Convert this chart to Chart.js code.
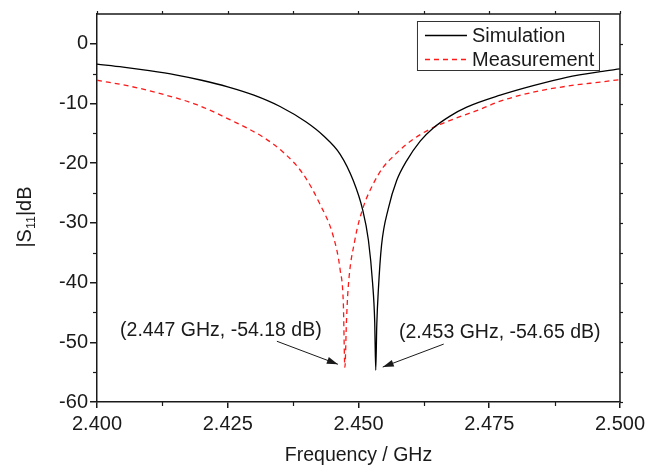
<!DOCTYPE html>
<html><head><meta charset="utf-8">
<script src="https://cdn.jsdelivr.net/npm/chart.js@4/dist/chart.umd.min.js"></script>
<style>html,body{margin:0;padding:0;background:#fff}#wrap{width:649px;height:467px;position:relative}</style>
</head><body><div id="wrap"><canvas id="c"></canvas></div>
<script>
// ---- data ----
const seriesLabels = ['Simulation', 'Measurement'];
const simFreq = [2.400, 2.405, 2.410, 2.415, 2.420, 2.425, 2.430, 2.435, 2.440, 2.4433, 2.4465, 2.4490, 2.4508, 2.4519, 2.4527, 2.4531, 2.4533, 2.4535, 2.4538, 2.4544, 2.4557, 2.4573, 2.4592, 2.4618, 2.4643, 2.4675, 2.4707, 2.4771, 2.4834, 2.4898, 2.4962, 2.500];
const simDb   = [-3.4, -3.9, -4.5, -5.2, -6.1, -7.2, -8.6, -10.5, -13.1, -15.4, -18.5, -22.9, -27.8, -32.9, -40.1, -46.5, -54.65, -47.0, -41.2, -33.8, -27.6, -22.9, -19.6, -16.3, -14.1, -12.1, -10.6, -8.6, -7.0, -5.6, -4.65, -4.2];
const measFreq = [2.400, 2.4063, 2.4128, 2.4191, 2.4254, 2.4319, 2.4358, 2.4394, 2.4426, 2.4452, 2.4465, 2.4471, 2.4474, 2.4477, 2.4480, 2.4493, 2.4509, 2.4528, 2.4547, 2.4567, 2.4592, 2.4624, 2.4656, 2.4694, 2.4732, 2.4771, 2.4834, 2.4898, 2.4962, 2.500];
const measDb   = [-6.1, -7.1, -8.5, -10.2, -12.7, -15.7, -18.3, -21.8, -26.8, -32.3, -37.9, -43.4, -54.18, -46.5, -41.2, -32.9, -27.4, -23.5, -20.7, -18.8, -16.8, -14.9, -13.5, -12.2, -11.0, -9.6, -8.1, -7.1, -6.4, -6.0];
const xTickValues = [2.400, 2.425, 2.450, 2.475, 2.500];
const yTickValues = [0, -10, -20, -30, -40, -50, -60];
const noteLabels = ['(2.447 GHz, -54.18 dB)', '(2.453 GHz, -54.65 dB)'];
const noteFreq = [2.4474, 2.4533];
const noteDb = [-54.18, -54.65];

const FONT = '"Liberation Sans", Arial, Helvetica, sans-serif';
const INK = '#1a1a1a';

function pts(xs, ys) { return xs.map((x, i) => ({x: x, y: ys[i]})); }

function arrow(ctx, x1, y1, x2, y2) {
  ctx.beginPath(); ctx.moveTo(x1, y1); ctx.lineTo(x2, y2); ctx.stroke();
  const a = Math.atan2(y2 - y1, x2 - x1), L = 11, W = 3.5;
  ctx.beginPath();
  ctx.moveTo(x2, y2);
  ctx.lineTo(x2 - L * Math.cos(a) + W * Math.sin(a), y2 - L * Math.sin(a) - W * Math.cos(a));
  ctx.lineTo(x2 - L * Math.cos(a) - W * Math.sin(a), y2 - L * Math.sin(a) + W * Math.cos(a));
  ctx.closePath(); ctx.fill();
}

const decor = {
  id: 'decor',
  afterDraw(chart) {
    const ctx = chart.ctx, a = chart.chartArea, xs = chart.scales.x, ys = chart.scales.y;
    ctx.save();
    ctx.strokeStyle = INK; ctx.fillStyle = INK; ctx.lineWidth = 1.5;
    // frame top/right
    ctx.beginPath();
    ctx.moveTo(a.left, a.top); ctx.lineTo(a.right, a.top); ctx.lineTo(a.right, a.bottom);
    ctx.stroke();
    ctx.lineWidth = 1.2;
    // minor ticks x
    for (let i = 0; i < xTickValues.length - 1; i++) {
      const v = (xTickValues[i] + xTickValues[i + 1]) / 2;
      const px = Math.round(xs.getPixelForValue(v)) + 0.5;
      ctx.beginPath(); ctx.moveTo(px, a.bottom); ctx.lineTo(px, a.bottom + 4); ctx.stroke();
      ctx.beginPath(); ctx.moveTo(px, a.top); ctx.lineTo(px, a.top - 3); ctx.stroke();
    }
    xTickValues.forEach(v => {
      const px = Math.round(xs.getPixelForValue(v)) + 0.5;
      ctx.beginPath(); ctx.moveTo(px, a.top); ctx.lineTo(px, a.top - 3); ctx.stroke();
    });
    // minor ticks y
    for (let i = 0; i < yTickValues.length - 1; i++) {
      const v = (yTickValues[i] + yTickValues[i + 1]) / 2;
      const py = Math.round(ys.getPixelForValue(v)) + 0.5;
      ctx.beginPath(); ctx.moveTo(a.left, py); ctx.lineTo(a.left - 4, py); ctx.stroke();
    }
    for (let v = 0; v >= -60; v -= 5) {
      const py = Math.round(ys.getPixelForValue(v)) + 0.5;
      ctx.beginPath(); ctx.moveTo(a.right, py); ctx.lineTo(a.right + 3, py); ctx.stroke();
    }
    // axis titles
    ctx.font = '19.5px ' + FONT;
    ctx.textAlign = 'center'; ctx.textBaseline = 'middle';
    ctx.fillText('Frequency / GHz', (a.left + a.right) / 2, 456);
    ctx.save();
    ctx.translate(24, 217); ctx.rotate(-Math.PI / 2);
    ctx.textAlign = 'left'; ctx.textBaseline = 'alphabetic';
    const f1 = '20px ' + FONT, f2 = '12.5px ' + FONT;
    ctx.font = f1; const w1 = ctx.measureText('|S').width, w3 = ctx.measureText('|dB').width;
    ctx.font = f2; const w2 = ctx.measureText('11').width;
    let x0 = -(w1 + w2 + w3) / 2;
    ctx.font = f1; ctx.fillText('|S', x0, 7);
    ctx.font = f2; ctx.fillText('11', x0 + w1, 11);
    ctx.font = f1; ctx.fillText('|dB', x0 + w1 + w2, 7);
    ctx.restore();
    // legend
    const lx = a.right - 203, ly = a.top + 7, lw = 182, lh = 49;
    ctx.fillStyle = '#fff'; ctx.fillRect(lx, ly, lw, lh);
    ctx.strokeStyle = '#333'; ctx.lineWidth = 1;
    ctx.strokeRect(lx + 0.5, ly + 0.5, lw, lh);
    ctx.fillStyle = INK; ctx.font = '20px ' + FONT; ctx.textAlign = 'left'; ctx.textBaseline = 'middle';
    chart.data.datasets.forEach((ds, i) => {
      const yy = ly + 14 + i * 24;
      ctx.save();
      ctx.strokeStyle = ds.borderColor; ctx.lineWidth = ds.borderWidth;
      ctx.setLineDash(ds.borderDash || []);
      ctx.beginPath(); ctx.moveTo(lx + 8, yy + 0.5); ctx.lineTo(lx + 50, yy + 0.5); ctx.stroke();
      ctx.restore();
      ctx.fillText(ds.label, lx + 55, yy + 1);
    });
    // annotations
    ctx.strokeStyle = INK; ctx.fillStyle = INK; ctx.lineWidth = 1;
    ctx.font = '19.5px ' + FONT; ctx.textAlign = 'center'; ctx.textBaseline = 'middle';
    const sides = [-1, 1];
    noteLabels.forEach((t, i) => {
      const px = xs.getPixelForValue(noteFreq[i]), py = ys.getPixelForValue(noteDb[i]);
      const s = sides[i];
      ctx.fillText(t, px + s * 124, py - 37);
      arrow(ctx, px + s * 68, py - 26, px + s * 7, py - 3);
    });
    ctx.restore();
  }
};

new Chart(document.getElementById('c'), {
  type: 'line',
  data: {
    datasets: [
      { label: seriesLabels[0], data: pts(simFreq, simDb), borderColor: '#000', borderWidth: 1.3,
        pointRadius: 0, cubicInterpolationMode: 'monotone', fill: false },
      { label: seriesLabels[1], data: pts(measFreq, measDb), borderColor: '#ff1a1a', borderWidth: 1.3,
        borderDash: [5, 4], pointRadius: 0, cubicInterpolationMode: 'monotone', fill: false }
    ]
  },
  options: {
    responsive: true, maintainAspectRatio: false, animation: false,
    layout: { padding: { left: 0, right: 29, top: 12, bottom: 0 } },
    plugins: { legend: { display: false }, tooltip: { enabled: false } },
    scales: {
      x: {
        type: 'linear', min: 2.4, max: 2.5,
        afterBuildTicks: s => { s.ticks = xTickValues.map(v => ({value: v})); },
        afterFit: s => { s.height = 65; },
        ticks: { callback: v => Number(v).toFixed(3), color: INK, font: { family: FONT, size: 20 }, padding: 4, maxRotation: 0, autoSkip: false },
        grid: { drawOnChartArea: false, color: INK, lineWidth: 1.5, tickLength: 6 },
        border: { color: INK, width: 1.5 }
      },
      y: {
        min: -60, max: 5,
        afterBuildTicks: s => { s.ticks = yTickValues.map(v => ({value: v})); },
        afterFit: s => { s.width = 97; },
        ticks: { color: INK, font: { family: FONT, size: 20 }, padding: 2, autoSkip: false },
        grid: { drawOnChartArea: false, color: INK, lineWidth: 1.5, tickLength: 7 },
        border: { color: INK, width: 1.5 }
      }
    }
  },
  plugins: [decor]
});
</script></body></html>
